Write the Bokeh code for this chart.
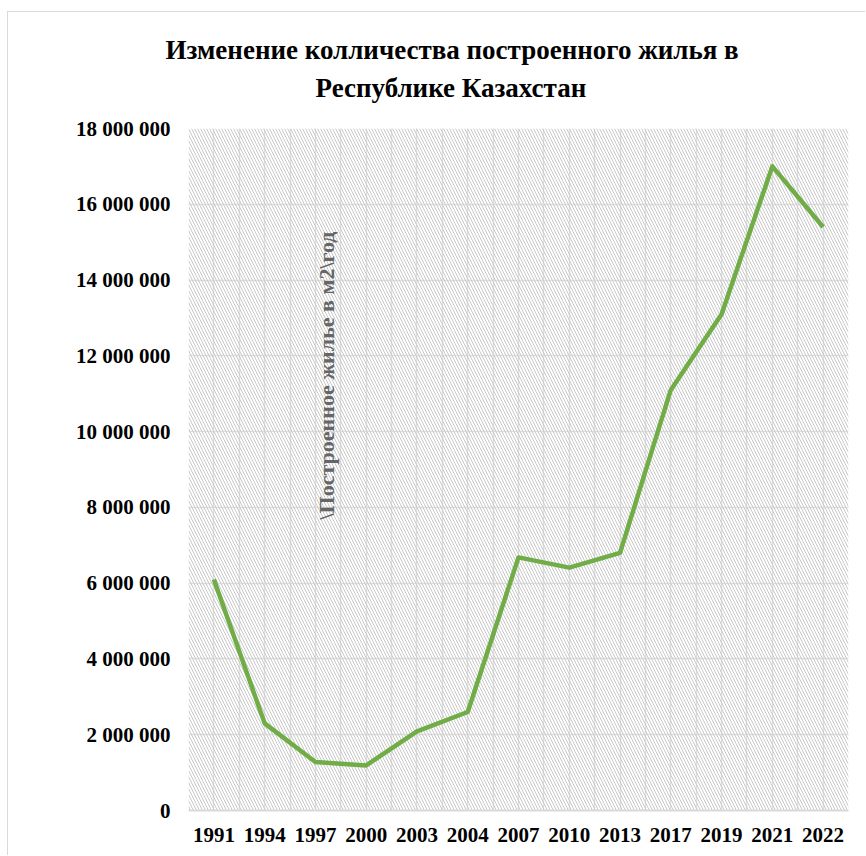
import math
from bokeh.plotting import figure
from bokeh.models import (FixedTicker, CustomJSTickFormatter, BoxAnnotation, Label,
                          Range1d, ColumnDataSource, Title)
from bokeh.embed import file_html
from bokeh.resources import INLINE

years = ["1991", "1994", "1997", "2000", "2003", "2004", "2007", "2010",
         "2013", "2017", "2019", "2021", "2022"]
housing_m2 = [6100000, 2300000, 1280000, 1190000, 2090000, 2600000, 6680000,
              6410000, 6800000, 11100000, 13100000, 17000000, 15400000]
y_ticks = [0, 2000000, 4000000, 6000000, 8000000, 10000000, 12000000,
           14000000, 16000000, 18000000]
title_lines = ["Изменение колличества построенного жилья в", "Республике Казахстан"]
y_label = "\\Построенное жилье в м2\\год"

idx = list(range(len(years)))
src = ColumnDataSource(data=dict(x=idx, y=housing_m2, year=years))

FONT = "Liberation Serif"

p = figure(width=858, height=844, output_backend="svg", toolbar_location=None,
           x_range=Range1d(-0.5, len(years) - 0.5), y_range=Range1d(0, 18000000),
           min_border_left=180, min_border_right=18, min_border_top=116,
           min_border_bottom=46)
p.styles = {"border-left": "1px solid #d9d9d9", "border-top": "1px solid #d9d9d9",
            "margin-left": "7px", "margin-top": "11px"}

t2 = Title(text=title_lines[1], align="left", text_font=FONT, text_font_size="27px",
           text_font_style="bold", text_color="#000000", standoff=52, offset=127)
t1 = Title(text=title_lines[0], align="left", text_font=FONT, text_font_size="27px",
           text_font_style="bold", text_color="#000000", standoff=-40, offset=-23)
p.add_layout(t2, "above")
p.add_layout(t1, "above")

p.background_fill_color = "white"
p.outline_line_color = None

p.add_layout(BoxAnnotation(left=-0.5, right=len(years) - 0.5, bottom=0, top=18000000,
                           fill_color="white", fill_alpha=0,
                           line_color=None, hatch_pattern="\\", hatch_color="#c8c8c8",
                           hatch_scale=6, hatch_weight=1, level="underlay"))

p.xgrid.ticker = FixedTicker(ticks=[i * 0.5 - 0.5 for i in range(2 * len(years) + 1)])
p.xgrid.grid_line_color = "#e0e0e0"
p.xgrid.grid_line_width = 1.5
p.ygrid.ticker = FixedTicker(ticks=y_ticks)
p.ygrid.grid_line_color = "#e0e0e0"
p.ygrid.grid_line_width = 1.5

p.xaxis.ticker = FixedTicker(ticks=idx)
p.xaxis.major_label_overrides = {i: y for i, y in zip(idx, years)}
p.yaxis.ticker = FixedTicker(ticks=y_ticks)
p.yaxis.formatter = CustomJSTickFormatter(
    code="return Math.round(tick).toString().replace(/\\B(?=(\\d{3})+(?!\\d))/g, ' ');")
for ax in (p.xaxis, p.yaxis):
    ax.major_tick_line_color = None
    ax.minor_tick_line_color = None
    ax.major_label_text_font = FONT
    ax.major_label_text_font_size = "21px"
    ax.major_label_text_font_style = "bold"
    ax.major_label_text_color = "#000000"
p.xaxis.axis_line_color = "#d9d9d9"
p.xaxis.axis_line_width = 2
p.yaxis.axis_line_color = None
p.xaxis.major_label_standoff = 11
p.yaxis.major_label_standoff = 12

p.line("x", "y", source=src, line_color="#70ad47", line_width=4.5, line_join="round")

p.add_layout(Label(x=2.22, y=11480000, text=y_label, angle=math.pi / 2,
                   text_font=FONT, text_font_size="22px", text_font_style="bold",
                   text_color="#666666", text_align="center", text_baseline="middle"))

open("out.html", "w").write(file_html(p, INLINE))
